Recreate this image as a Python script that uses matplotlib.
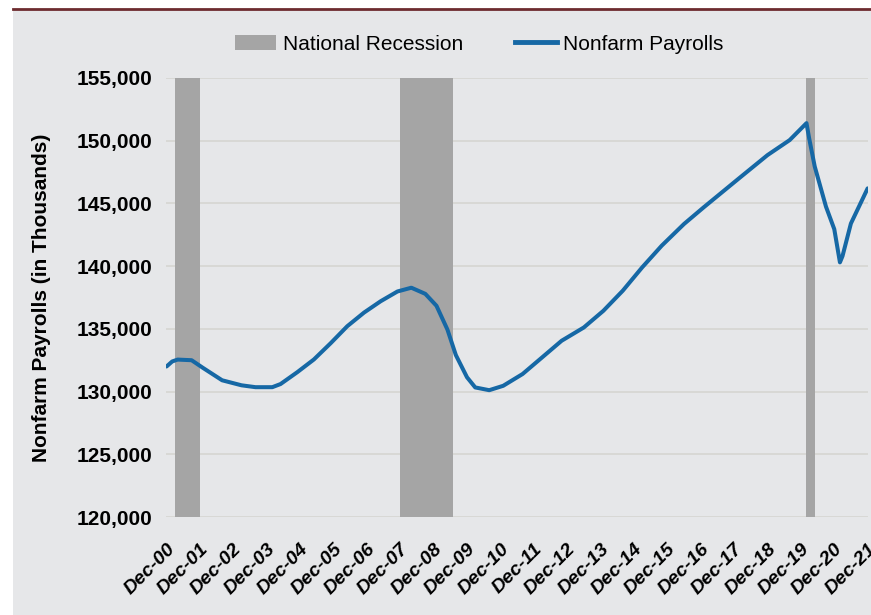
import matplotlib
matplotlib.use("Agg")
import matplotlib.pyplot as plt
from matplotlib.patches import Patch, Rectangle
from matplotlib.lines import Line2D
import pandas as pd

# 12-month average nonfarm payrolls (thousands)
dates = ["2000-12", "2001-02", "2001-04", "2001-09", "2002-01", "2002-08",
         "2003-03", "2003-08", "2004-02", "2004-05", "2004-11", "2005-05",
         "2005-11", "2006-05", "2006-11", "2007-05", "2007-11", "2008-04",
         "2008-09", "2009-01", "2009-05", "2009-08", "2009-12", "2010-03",
         "2010-08", "2011-01", "2011-08", "2012-03", "2012-10", "2013-06",
         "2014-01", "2014-08", "2015-03", "2015-10", "2016-06", "2017-01",
         "2018-02", "2018-12", "2019-08", "2020-02", "2020-03", "2020-05",
         "2020-09", "2020-12", "2021-02", "2021-03", "2021-06", "2021-12"]
payrolls = [132000, 132400, 132550, 132500, 131900, 130900,
            130500, 130350, 130350, 130600, 131550, 132560,
            133860, 135210, 136300, 137200, 137980, 138280,
            137790, 136840, 134940, 132910, 131140, 130330,
            130110, 130460, 131400, 132720, 134050, 135110,
            136440, 138040, 139900, 141630, 143360, 144680,
            147050, 148850, 150050, 151400, 150200, 147950,
            144750, 142950, 140300, 140800, 143400, 146200]

rec_start = ["2001-03-01", "2007-12-01", "2020-02-01"]
rec_end = ["2001-11-30", "2009-06-30", "2020-04-30"]

tick_dates = pd.date_range("2000-12-01", "2021-12-01", freq="12MS")
tick_labels = [f"Dec-{d:%y}" for d in tick_dates]
y_ticks = list(range(120000, 155001, 5000))

x = pd.to_datetime(dates)

fig = plt.figure(figsize=(8.71, 6.15), dpi=100)
fig.patch.set_facecolor("white")
fig.patches.append(Rectangle((13 / 871, 0), 1, 1 - 10 / 615, transform=fig.transFigure,
                             facecolor="#e6e7e9", edgecolor="none", zorder=-10))
fig.add_artist(Line2D([13 / 871, 1], [1 - 9 / 615, 1 - 9 / 615], transform=fig.transFigure,
                      color="#6d2b2f", lw=2))

ax = fig.add_axes([166 / 871, 1 - 517 / 615, 702 / 871, 439 / 615])
ax.set_facecolor("none")

for s, e in zip(rec_start, rec_end):
    ax.axvspan(pd.Timestamp(s), pd.Timestamp(e), color="#a5a5a5", lw=0, zorder=1)

ax.plot(x, payrolls, color="#1668a5", lw=2.9, solid_joinstyle="round",
        solid_capstyle="round", zorder=3)

ax.set_ylim(120000, 155000)
ax.set_yticks(y_ticks)
ax.set_yticklabels([f"{v:,}" for v in y_ticks], fontsize=15, fontweight="bold",
                   family="Liberation Sans")
ax.grid(axis="y", color="#d6d6d2", lw=1.2, zorder=0)
ax.set_axisbelow(True)

ax.set_xlim(pd.Timestamp("2000-11-25"), pd.Timestamp("2021-12-05"))
ax.set_xticks(tick_dates)
ax.set_xticklabels(tick_labels, rotation=45, ha="right", rotation_mode="anchor",
                   fontsize=14, fontweight="bold", fontstyle="italic",
                   family="Liberation Sans")

ax.tick_params(axis="y", length=0, pad=10)
ax.tick_params(axis="x", length=0, pad=17)
for sp in ax.spines.values():
    sp.set_visible(False)

ax.set_ylabel("Nonfarm Payrolls (in Thousands)", fontsize=15, fontweight="bold",
              family="Liberation Sans", labelpad=18)

handles = [Patch(facecolor="#a5a5a5", edgecolor="none"),
           Line2D([0], [0], color="#1668a5", lw=3.5)]
fig.legend(handles, ["National Recession", "Nonfarm Payrolls"], loc="center",
           bbox_to_anchor=(479 / 871, 1 - 44 / 615), ncol=2, frameon=False,
           prop={"family": "Liberation Sans", "size": 15},
           handlelength=2.0, handletextpad=0.3, columnspacing=2.5)

fig.savefig("out.png", dpi=100)
